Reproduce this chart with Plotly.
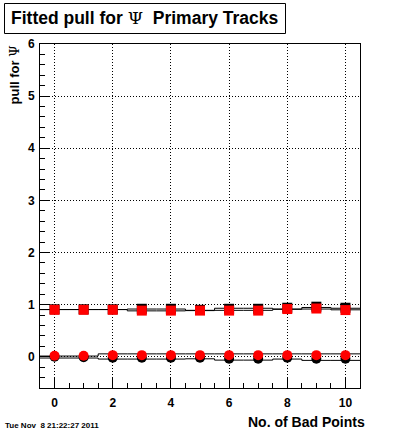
import plotly.graph_objects as go

# ---- data ----
bad_points = [0, 1, 2, 3, 4, 5, 6, 7, 8, 9, 10]

# pull near 1 (squares)
sq_black = [0.91, 0.91, 0.91, 0.92, 0.92, 0.90, 0.92, 0.92, 0.94, 0.96, 0.94]
sq_red = [0.90, 0.90, 0.90, 0.885, 0.885, 0.885, 0.885, 0.885, 0.915, 0.925, 0.895]
sq_band_hi = [0.905, 0.905, 0.905, 0.915, 0.915, 0.89, 0.93, 0.93, 0.915, 0.945, 0.93]
sq_band_lo = [0.905, 0.905, 0.905, 0.88, 0.88, 0.885, 0.89, 0.89, 0.91, 0.915, 0.90]

# pull near 0 (circles)
ci_black = [0.0, -0.01, -0.02, -0.02, -0.02, -0.02, -0.04, -0.04, -0.02, -0.04, -0.04]
ci_red = [0.02, 0.02, 0.03, 0.03, 0.03, 0.03, 0.03, 0.03, 0.03, 0.03, 0.03]
ci_band_hi = [0.013, 0.013, 0.055, 0.055, 0.055, 0.055, 0.055, 0.055, 0.055, 0.055, 0.055]
ci_band_lo = [-0.025, -0.025, -0.045, -0.045, -0.045, -0.04, -0.065, -0.065, -0.045, -0.07, -0.07]

x_ticks = [0, 2, 4, 6, 8, 10]
y_ticks = [0, 1, 2, 3, 4, 5, 6]

date_text = "Tue Nov \u00a08 21:22:27 2011"

FONT = "Liberation Sans, Arial, Helvetica, sans-serif"
PSI = "<span style='font-family:DejaVu Serif;font-weight:normal'>Ψ</span>"

# histogram-style step coordinates from bin centres
def steps(xs, ys):
    edges = [x - 0.5 for x in xs] + [xs[-1] + 0.5]
    vals = list(ys) + [ys[-1]]
    return edges, vals

fig = go.Figure()

for band in (sq_band_hi, sq_band_lo, ci_band_hi, ci_band_lo):
    ex, ey = steps(bad_points, band)
    fig.add_trace(go.Scatter(x=ex, y=ey, mode="lines", line_shape="hv",
                             line=dict(color="black", width=1), showlegend=False,
                             hoverinfo="skip"))

fig.add_trace(go.Scatter(x=bad_points, y=ci_black, mode="markers",
                         marker=dict(symbol="circle", size=10, color="black"), showlegend=False))
fig.add_trace(go.Scatter(x=bad_points, y=sq_black, mode="markers",
                         marker=dict(symbol="square", size=10, color="black"), showlegend=False))
fig.add_trace(go.Scatter(x=bad_points, y=ci_red, mode="markers",
                         marker=dict(symbol="circle", size=10, color="red"), showlegend=False))
fig.add_trace(go.Scatter(x=bad_points, y=sq_red, mode="markers",
                         marker=dict(symbol="square", size=10, color="red"), showlegend=False))

L, R, T, B = 40, 360, 44, 388
W, H = 400, 433
def px(x):
    return (x - L) / (R - L)
def py(y):
    return (B - y) / (B - T)

axis_common = dict(
    showline=True, mirror=True, linecolor="black", linewidth=1,
    showgrid=True, gridcolor="black", gridwidth=1, griddash="1px,2px",
    zeroline=False, ticks="inside", tickcolor="black", ticklen=10, tickwidth=1,
    tickfont=dict(family=FONT, size=12, color="black", weight="bold"),
)

fig.update_xaxes(range=[-0.5, 10.5], tickvals=x_ticks, ticktext=[str(v) for v in x_ticks],
                 minor=dict(ticks="inside", ticklen=5, dtick=0.5, tick0=0, tickcolor="black", showgrid=False),
                 ticklabelstandoff=4, **axis_common)
fig.update_yaxes(range=[-0.6, 6], tickvals=y_ticks, ticktext=[str(v) for v in y_ticks],
                 minor=dict(ticks="inside", ticklen=5, dtick=0.2, tick0=0, tickcolor="black", showgrid=False),
                 ticklabelstandoff=2, **axis_common)

fig.update_layout(
    width=W, height=H,
    margin=dict(l=L, r=W - R, t=T, b=H - B, pad=0),
    paper_bgcolor="white", plot_bgcolor="white",
    font=dict(family=FONT, color="black"),
    showlegend=False,
    shapes=[dict(type="rect", xref="paper", yref="paper",
                 x0=px(4.5), x1=px(285.5), y0=py(33.5), y1=py(3.5),
                 line=dict(color="black", width=1), fillcolor="white", layer="above")],
    annotations=[
        dict(text="Fitted pull for " + PSI + "  Primary Tracks",
             xref="paper", yref="paper", x=px(9), y=py(18.5), xanchor="left", yanchor="middle",
             showarrow=False, font=dict(family=FONT, size=17.5, color="black", weight="bold")),
        dict(text="pull for " + PSI,
             xref="paper", yref="paper", x=px(14), y=py(44), xanchor="center", yanchor="top",
             textangle=-90, showarrow=False,
             font=dict(family=FONT, size=13, color="black", weight="bold")),
        dict(text="No. of Bad Points", xref="paper", yref="paper", x=px(367), y=py(422),
             xanchor="right", yanchor="middle", showarrow=False,
             font=dict(family=FONT, size=14, color="black", weight="bold")),
        dict(text=date_text, xref="paper", yref="paper", x=px(3), y=py(425),
             xanchor="left", yanchor="middle", showarrow=False,
             font=dict(family=FONT, size=8, color="black", weight="bold")),
    ],
)

fig.write_html("out.html", config={"displayModeBar": False},
               post_script="document.body.style.margin='0';document.body.style.overflow='hidden';")
